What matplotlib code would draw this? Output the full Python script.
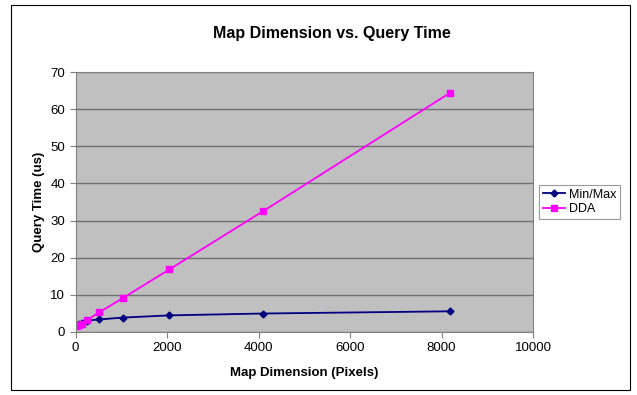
import matplotlib.pyplot as plt
from matplotlib.patches import Rectangle

plt.rcParams['font.family'] = ['Liberation Sans', 'DejaVu Sans']

# map sizes in pixels and the measured query times (us)
dims = [32, 64, 128, 256, 512, 1024, 2048, 4096, 8192]
minmax = [1.7, 2.0, 2.4, 3.0, 3.3, 3.8, 4.4, 4.9, 5.5]
dda = [1.5, 1.8, 2.1, 3.2, 5.2, 9.0, 16.8, 32.5, 64.5]

fig = plt.figure(figsize=(6.37, 3.95), dpi=100)
ax = fig.add_axes([0.1188, 0.1603, 0.7179, 0.6567])
ax.set_facecolor('#c0c0c0')

ax.plot(dims, minmax, color='#000080', marker='D', markersize=3.5, lw=1.3, label='Min/Max')
ax.plot(dims, dda, color='#ff00ff', marker='s', markersize=4.5, lw=1.3, label='DDA')

ax.set_xlim(0, 10000)
ax.set_ylim(0, 70)
ax.set_xticks(range(0, 10001, 2000))
ax.set_yticks(range(0, 71, 10))
ax.grid(axis='y', color='#707070', lw=1)
ax.set_axisbelow(True)
for s in ax.spines.values():
    s.set_color('#808080')
ax.tick_params(labelsize=9.5, length=4, color='#808080')

# title is centred on the whole chart, not the plot area
fig.text(0.521, 0.916, 'Map Dimension vs. Query Time', fontsize=11.5,
         fontweight='bold', ha='center', va='center')
ax.set_xlabel('Map Dimension (Pixels)', fontsize=9.5, fontweight='bold', labelpad=9)
ax.set_ylabel('Query Time (us)', fontsize=9.5, fontweight='bold', labelpad=4)

leg = ax.legend(loc='center left', bbox_to_anchor=(1.005, 0.5), fontsize=9,
                frameon=True, fancybox=False, edgecolor='#808080',
                borderpad=0.3, handlelength=1.8, handletextpad=0.3, labelspacing=0.2,
                borderaxespad=0.3)
leg.get_frame().set_linewidth(0.8)

# chart border
fig.patches.append(Rectangle((0.017, 0.013), 0.972, 0.975, transform=fig.transFigure,
                             fill=False, edgecolor='black', lw=0.8))

fig.savefig('out.png', dpi=100)
